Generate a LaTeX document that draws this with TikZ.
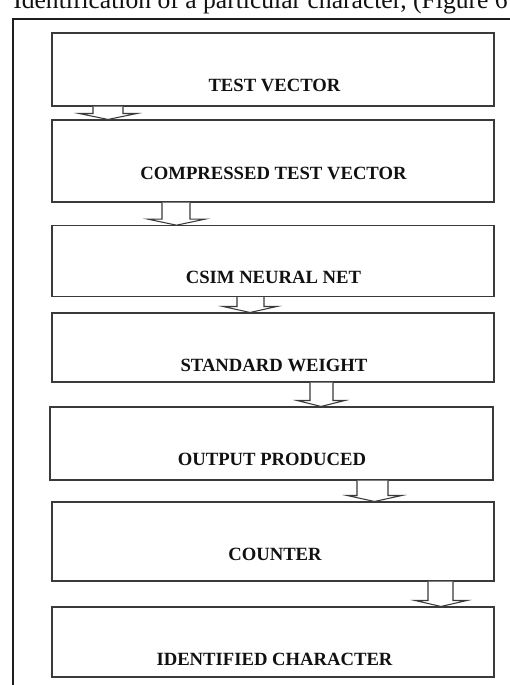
\documentclass[tikz,border=0pt]{standalone}
\usepackage{fontspec}
\setmainfont{Liberation Serif}
\usetikzlibrary{calc}
\definecolor{frameline}{HTML}{1E1E1E}
\definecolor{boxline}{HTML}{3A3A3A}
\definecolor{textcol}{HTML}{111111}
\tikzset{
  flowbox/.style={draw=boxline, line width=0.8pt, minimum width=331.5pt, inner sep=0pt},
  flowlabel/.style={anchor=base, text=textcol, inner sep=0pt, font=\fontsize{14}{16}\selectfont\bfseries},
  blk/.style={draw=boxline, line width=0.8pt, fill=white, line join=miter},
  framestyle/.style={draw=frameline, line width=1.1pt},
}
% #1 source node, #2 target node, #3/#4 shaft left/right x, #5/#6 head left/right x (pixels)
\newcommand\blockarrow[6]{%
  \draw[blk] let \p1=(#1.south), \p2=(#2.north) in
    (#3*0.75pt,\y1) -- (#3*0.75pt,\y2+4.5pt) -- (#5*0.75pt,\y2+4.5pt)
    -- ({(#5+#6)/2*0.75pt},\y2) -- (#6*0.75pt,\y2+4.5pt)
    -- (#4*0.75pt,\y2+4.5pt) -- (#4*0.75pt,\y1);}
\begin{document}
\begin{tikzpicture}[x=0.75pt,y=-0.75pt]
\useasboundingbox (0,0) rectangle (510,685);
\clip (0,0) rectangle (510,685);
\fill[white] (0,0) rectangle (510,685);
% cut-off line of text above the figure
\node[anchor=base west, inner sep=0pt, text=textcol, font=\fontsize{19.2}{22}\selectfont] (cap) at (13,9) {Identification of a particular character, (Figure 6};
% outer frame
\coordinate (fbl) at (13,690);
\coordinate (ftl) at (13,19);
\coordinate (ftr) at (515,19);
\draw[framestyle] (fbl) -- (ftl) -- (ftr);
% boxes
\node[flowbox, minimum height=54.75pt] (b1) at (273,69.5) {};
\node[flowbox, minimum height=61.5pt]  (b2) at (273,161) {};
\node[flowbox, minimum height=53.25pt] (b3) at (273,261.2) {};
\node[flowbox, minimum height=51.75pt] (b4) at (273,347.5) {};
\node[flowbox, minimum height=54.75pt, minimum width=332.25pt] (b5) at (271.5,443.5) {};
\node[flowbox, minimum height=59.25pt] (b6) at (273,541.5) {};
\node[flowbox, minimum height=52.5pt]  (b7) at (273,642) {};
% labels
\node[flowlabel] (t1) at (274.5,91.5) {TEST VECTOR};
\node[flowlabel] (t2) at (273.5,179) {COMPRESSED TEST VECTOR};
\node[flowlabel] (t3) at (273.5,283) {CSIM NEURAL NET};
\node[flowlabel] (t4) at (274,371.5) {STANDARD WEIGHT};
\node[flowlabel] (t5) at (272,465) {OUTPUT PRODUCED};
\node[flowlabel] (t6) at (275,560.5) {COUNTER};
\node[flowlabel] (t7) at (274.5,665) {IDENTIFIED CHARACTER};
% block arrows
\blockarrow{b1}{b2}{93}{123}{79}{137}
\blockarrow{b2}{b3}{162}{190}{148}{205}
\blockarrow{b3}{b4}{237}{264}{223}{277}
\blockarrow{b4}{b5}{310}{333}{297}{345}
\blockarrow{b5}{b6}{357}{388}{347}{402}
\blockarrow{b6}{b7}{428}{453}{415}{467}
\end{tikzpicture}
\end{document}
